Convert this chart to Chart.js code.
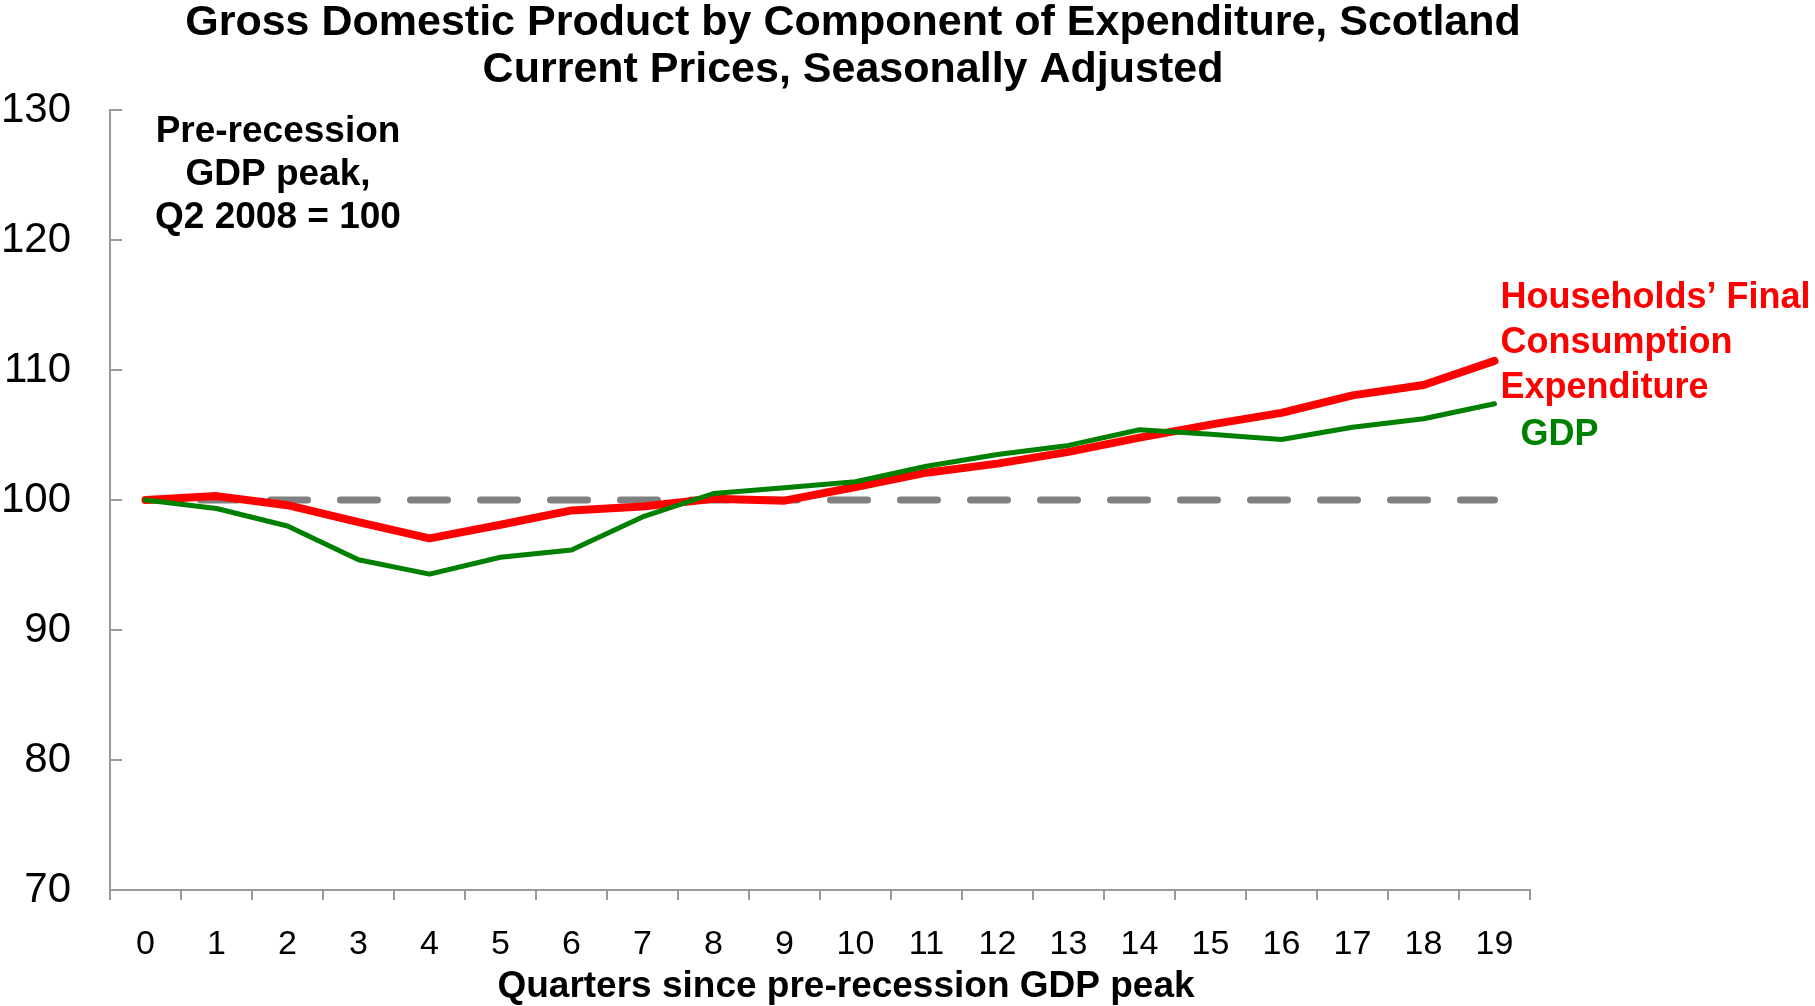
<!DOCTYPE html>
<html lang="en">
<head>
<meta charset="utf-8">
<title>Gross Domestic Product by Component of Expenditure, Scotland</title>
<script src="https://cdn.jsdelivr.net/npm/chart.js@4/dist/chart.umd.min.js"></script>
<style>
  html, body { margin: 0; padding: 0; background: #fff; }
  .chart-wrap { position: relative; width: 1815px; height: 1006px; }
</style>
</head>
<body>
<div class="chart-wrap"><canvas id="gdpChart"></canvas></div>
<script>
'use strict';

/* ----- data ----- */
const quarters = ['0', '1', '2', '3', '4', '5', '6', '7', '8', '9',
                  '10', '11', '12', '13', '14', '15', '16', '17', '18', '19'];
const hfce = [100, 100.3, 99.6, 98.3, 97.05, 98.1, 99.2, 99.5, 100.1, 99.95,
              101.0, 102.1, 102.8, 103.7, 104.8, 105.8, 106.7, 108.05, 108.85, 110.7];
const gdp = [100, 99.35, 98.0, 95.4, 94.3, 95.6, 96.15, 98.7, 100.5, 100.95,
             101.4, 102.6, 103.5, 104.2, 105.4, 105.05, 104.65, 105.6, 106.25, 107.4];
const baseline = [100, 100, 100, 100, 100, 100, 100, 100, 100, 100,
                  100, 100, 100, 100, 100, 100, 100, 100, 100, 100];
const yTicks = { min: 70, max: 130, step: 10 };

const titleLines = ['Gross Domestic Product by Component of Expenditure, Scotland',
                    'Current Prices, Seasonally Adjusted'];
const noteLines = ['Pre-recession', 'GDP peak,', 'Q2 2008 = 100'];
const hfceLabel = ['Households\u2019 Final', 'Consumption', 'Expenditure'];
const gdpLabel = 'GDP';
const xTitle = 'Quarters since pre-recession GDP peak';

Chart.defaults.font.family = "'Liberation Sans', Arial, Helvetica, sans-serif";
Chart.defaults.color = '#000';

const AXIS_GREY = '#9a9a9a';

/* ----------------------------------------------------------
   texts + inward y ticks
   ---------------------------------------------------------- */
const decorPlugin = {
  id: 'decor',
  afterDraw(chart) {
    const { ctx, chartArea, scales: { x, y } } = chart;
    ctx.save();

    // y ticks point into the plot area
    ctx.strokeStyle = AXIS_GREY;
    ctx.lineWidth = 2;
    y.ticks.forEach(t => {
      const py = Math.round(y.getPixelForValue(t.value));
      ctx.beginPath();
      ctx.moveTo(chartArea.left, py);
      ctx.lineTo(chartArea.left + 12, py);
      ctx.stroke();
    });

    ctx.textBaseline = 'middle';

    // title
    ctx.fillStyle = '#000';
    ctx.textAlign = 'center';
    ctx.font = "bold 43px 'Liberation Sans', Arial, sans-serif";
    titleLines.forEach((s, i) => ctx.fillText(s, 853, 23 + i * 47));

    // x axis title
    ctx.font = "bold 37px 'Liberation Sans', Arial, sans-serif";
    ctx.fillText(xTitle, 846, 987);

    // index note
    ctx.font = "bold 37px 'Liberation Sans', Arial, sans-serif";
    noteLines.forEach((s, i) => ctx.fillText(s, chartArea.left + 168, chartArea.top + 22 + i * 43));

    // series labels
    const lx = x.getPixelForValue(19) + 6;
    ctx.textAlign = 'left';
    ctx.font = "bold 36px 'Liberation Sans', Arial, sans-serif";
    ctx.fillStyle = '#ff0000';
    hfceLabel.forEach((s, i) => ctx.fillText(s, lx, y.getPixelForValue(115.5) + i * 45));
    ctx.fillStyle = '#008000';
    ctx.fillText(gdpLabel, lx + 20, y.getPixelForValue(105.0));

    ctx.restore();
  }
};

/* ----------------------------------------------------------
   chart
   ---------------------------------------------------------- */
new Chart(document.getElementById('gdpChart'), {
  type: 'line',
  data: {
    labels: quarters,
    datasets: [
      {
        label: 'GDP',
        data: gdp,
        borderColor: '#008000',
        borderWidth: 5,
        pointRadius: 0,
        tension: 0,
        borderCapStyle: 'round',
        borderJoinStyle: 'round',
        order: 1,
      },
      {
        label: 'Households\u2019 Final Consumption Expenditure',
        data: hfce,
        borderColor: '#ff0000',
        borderWidth: 8,
        pointRadius: 0,
        tension: 0,
        borderCapStyle: 'round',
        borderJoinStyle: 'round',
        order: 2,
      },
      {
        label: 'Pre-recession peak',
        data: baseline,
        borderColor: '#808080',
        borderWidth: 7,
        borderDash: [37, 33],
        borderDashOffset: 15,
        borderCapStyle: 'round',
        pointRadius: 0,
        tension: 0,
        order: 3,
      }
    ]
  },
  options: {
    responsive: true,
    maintainAspectRatio: false,
    animation: false,
    layout: { padding: { left: 0, top: 110, right: 285, bottom: 0 } },
    plugins: {
      legend: { display: false },
      title: { display: false },
      tooltip: { enabled: false }
    },
    scales: {
      x: {
        offset: true,
        grid: {
          offset: true,
          drawOnChartArea: false,
          color: AXIS_GREY,
          lineWidth: 2,
          tickLength: 10
        },
        border: { color: AXIS_GREY, width: 2 },
        ticks: { font: { size: 34 }, padding: 24, autoSkip: false, maxRotation: 0 },
        afterFit: s => { s.height = 116; }
      },
      y: {
        min: yTicks.min,
        max: yTicks.max,
        grid: { drawOnChartArea: false, drawTicks: false },
        border: { color: AXIS_GREY, width: 2 },
        ticks: { stepSize: yTicks.step, font: { size: 42 }, padding: 39 },
        afterFit: s => { s.width = 110; }
      }
    }
  },
  plugins: [decorPlugin]
});
</script>
</body>
</html>
